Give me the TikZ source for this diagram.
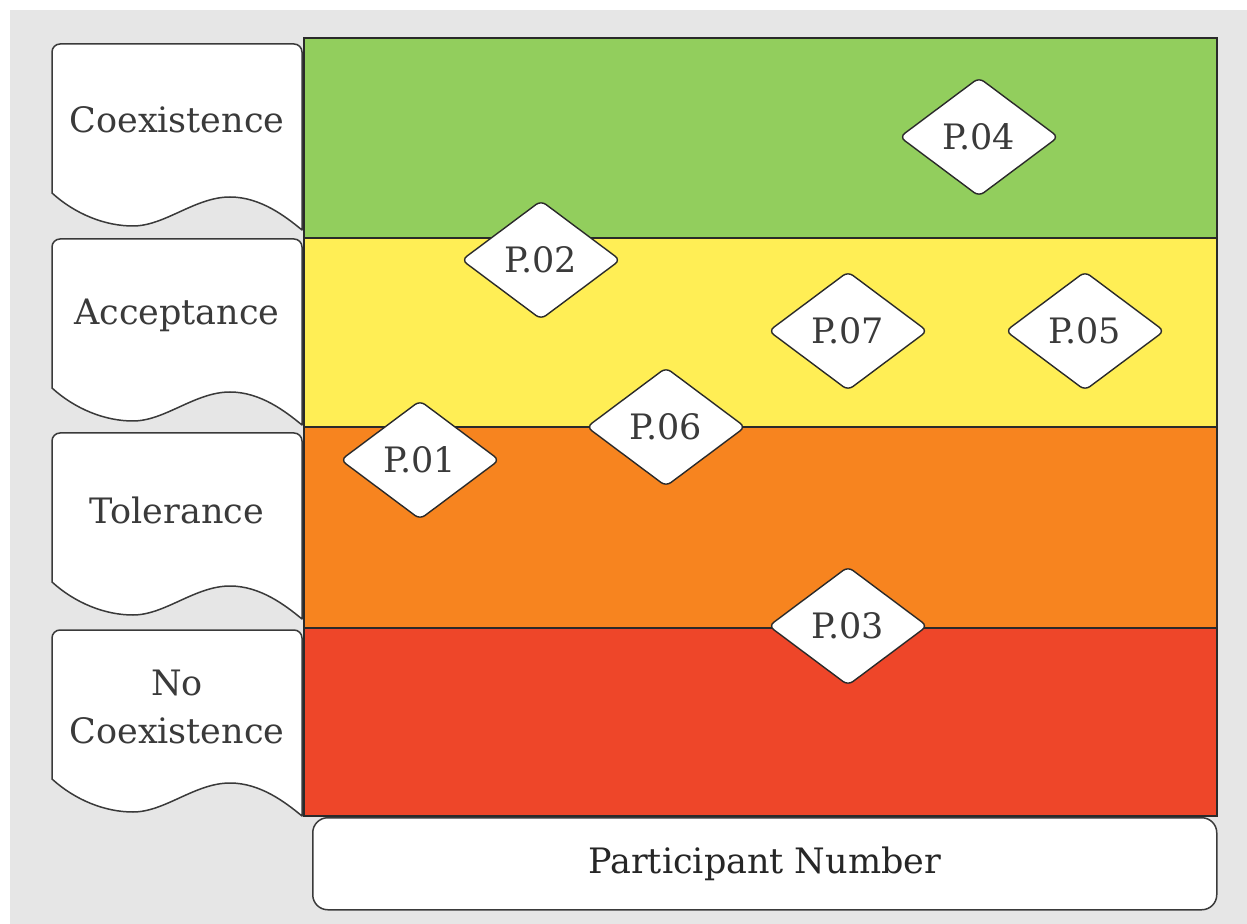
\documentclass[tikz,border=0pt]{standalone}
\usepackage{fontspec}
\setmainfont{DejaVu Serif}
\usetikzlibrary{shapes.geometric}

\definecolor{bgray}{HTML}{E6E6E6}
\definecolor{cgreen}{HTML}{92CE5D}
\definecolor{cyellow}{HTML}{FFEE55}
\definecolor{corange}{HTML}{F7841F}
\definecolor{cred}{HTML}{EE4629}
\definecolor{ink}{HTML}{3A3A3A}
\definecolor{edge}{HTML}{2A2A2A}

\tikzset{
  band/.style={draw=edge, line width=1pt, anchor=north west, inner sep=0pt},
  docshape/.style={draw=ink, line width=0.75pt, fill=white, line join=round},
  levellabel/.style={text=ink, font=\fontsize{17.5}{24}\selectfont, align=center},
  pmark/.style={diamond, draw=edge, line width=0.7pt, fill=white, rounded corners=3pt,
    minimum width=79.5pt, minimum height=59.5pt, inner sep=0pt,
    text=ink, font=\fontsize{17.5}{20}\selectfont},
  axisbox/.style={draw=ink, line width=0.75pt, fill=white, rounded corners=7.5pt,
    anchor=north west, minimum width=452pt, minimum height=46pt, inner sep=0pt,
    text=black!85, font=\fontsize{17.5}{20}\selectfont}
}

% wavy-bottom label card whose top edge sits at y = #1
\newcommand{\levelcard}[1]{%
  \draw[docshape] (52,#1+149) -- (52,#1+8)
    .. controls (52,#1+3.6) and (55.6,#1) .. (60,#1) -- (294,#1)
    .. controls (298.4,#1) and (302,#1+3.6) .. (302,#1+8) -- (302,#1+186)
    .. controls (285,#1+172) and (260,#1+153) .. (230,#1+153)
    .. controls (195,#1+153) and (165,#1+182) .. (133,#1+182)
    .. controls (105,#1+182) and (75,#1+170) .. (52,#1+149) -- cycle;}

\begin{document}
\begin{tikzpicture}[x=0.5pt, y=-0.5pt]
  \useasboundingbox (0,0) rectangle (1247,924);
  \fill[white] (0,0) rectangle (1247,924);
  \fill[bgray] (10,10) rectangle (1247,924);

  % colour bands
  \node[band, fill=cgreen,  minimum width=456.5pt, minimum height=100pt]  (green)  at (303,37)  {};
  \node[band, fill=cyellow, minimum width=456.5pt, minimum height=94.5pt] (yellow) at (303,237) {};
  \node[band, fill=corange, minimum width=456.5pt, minimum height=100.5pt] (orange) at (303,426) {};
  \node[band, fill=cred,    minimum width=456.5pt, minimum height=94pt]   (red)    at (303,627) {};

  % level cards
  \levelcard{44}
  \levelcard{239}
  \levelcard{433}
  \levelcard{630}
  \node[levellabel] (coex)  at (177,120) {Coexistence};
  \node[levellabel] (accept) at (177,315) {Acceptance};
  \node[levellabel] (toler) at (177,510) {Tolerance};
  \node[levellabel] (nocoex) at (177,707) {No\\Coexistence};

  % participants
  \node[pmark] (p04) at (979,137) {P.04};
  \node[pmark] (p02) at (541,260) {P.02};
  \node[pmark] (p07) at (848,331) {P.07};
  \node[pmark] (p05) at (1085,331) {P.05};
  \node[pmark] (p06) at (666,427) {P.06};
  \node[pmark] (p01) at (420,460) {P.01};
  \node[pmark] (p03) at (848,626) {P.03};

  % axis caption
  \node[axisbox] (axis) at (312,817) {Participant Number};
\end{tikzpicture}
\end{document}
